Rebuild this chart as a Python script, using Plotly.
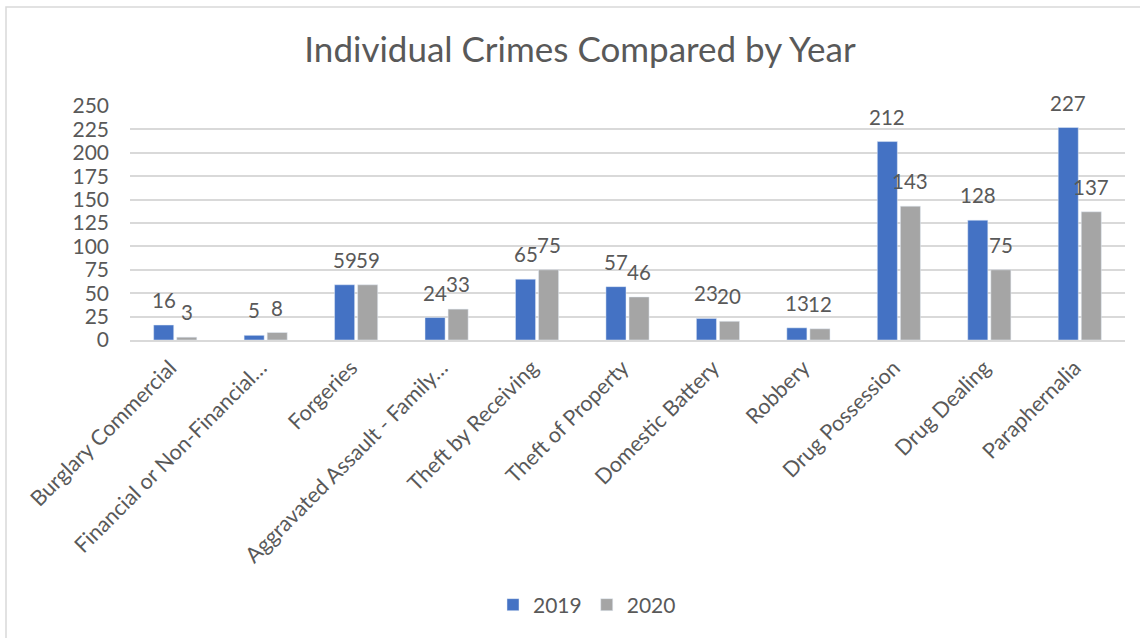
import plotly.graph_objects as go

categories = ["Burglary Commercial", "Financial or Non-Financial…", "Forgeries",
              "Aggravated Assault - Family…", "Theft by Receiving", "Theft of Property",
              "Domestic Battery", "Robbery", "Drug Possession", "Drug Dealing", "Paraphernalia"]
values_2019 = [16, 5, 59, 24, 65, 57, 23, 13, 212, 128, 227]
values_2020 = [3, 8, 59, 33, 75, 46, 20, 12, 143, 75, 137]
series_names = ["2019", "2020"]
y_ticks = [0, 25, 50, 75, 100, 125, 150, 175, 200, 225, 250]

FONT = "Lato"
TXT = "#595959"
GRID = "#d9d9d9"
FS = 21

W, H = 1140, 638
L, R, T, B = 130, 15, 106, 298
pw, ph = W - L - R, H - T - B
BARGAP = 0.49
slot = pw / len(categories) * (1 - BARGAP) / 2

fig = go.Figure()
series = [(series_names[0], values_2019, "#4472C4", -slot / 2),
          (series_names[1], values_2020, "#A5A5A5", slot / 2)]
for name, vals, col, xs in series:
    fig.add_trace(go.Bar(x=categories, y=vals, name=name, marker_color=col,
                         hoverinfo="x+y+name"))
    for c, v in zip(categories, vals):
        fig.add_annotation(x=c, y=v, text=str(v), showarrow=False,
                           xanchor="center", yanchor="bottom", xshift=xs, yshift=11,
                           font=dict(family=FONT, size=20.5, color=TXT))


def px_x(p):
    return (p - L) / pw


def px_y(p):
    return (H - B - p) / ph


fig.add_shape(type="rect", xref="paper", yref="paper",
              x0=px_x(6), x1=px_x(1150), y0=px_y(7), y1=px_y(660),
              line=dict(color=GRID, width=1.5), fillcolor="rgba(0,0,0,0)", layer="below")

fig.update_layout(
    width=W, height=H,
    margin=dict(l=L, r=R, t=T, b=B, autoexpand=False),
    paper_bgcolor="white", plot_bgcolor="white",
    barmode="group", bargap=BARGAP, bargroupgap=0.13,
    title=dict(text="Individual Crimes Compared by Year", x=580 / W, xanchor="center",
               xref="container", yref="container", y=1 - 50 / H, yanchor="middle",
               font=dict(family=FONT, size=35, color=TXT)),
    font=dict(family=FONT, color=TXT),
    showlegend=True,
    legend=dict(orientation="h", x=px_x(587), xanchor="center",
                y=px_y(605), yanchor="middle",
                font=dict(family=FONT, size=FS, color=TXT), itemwidth=30,
                bgcolor="rgba(0,0,0,0)"),
    xaxis=dict(tickangle=-45, tickfont=dict(family=FONT, size=21.5, color=TXT),
               showline=True, linecolor=GRID, linewidth=1.5, ticks="",
               showgrid=False, ticklabelstandoff=5, ticklabelshift=-5),
    yaxis=dict(range=[0, 250], tickvals=y_ticks, tickfont=dict(family=FONT, size=FS, color=TXT),
               showgrid=True, gridcolor=GRID, gridwidth=1.5, zeroline=False,
               ticklabelstandoff=20, showline=False),
)

fig.write_html("out.html", config={"displayModeBar": False},
               post_script="document.body.style.margin='0';")
